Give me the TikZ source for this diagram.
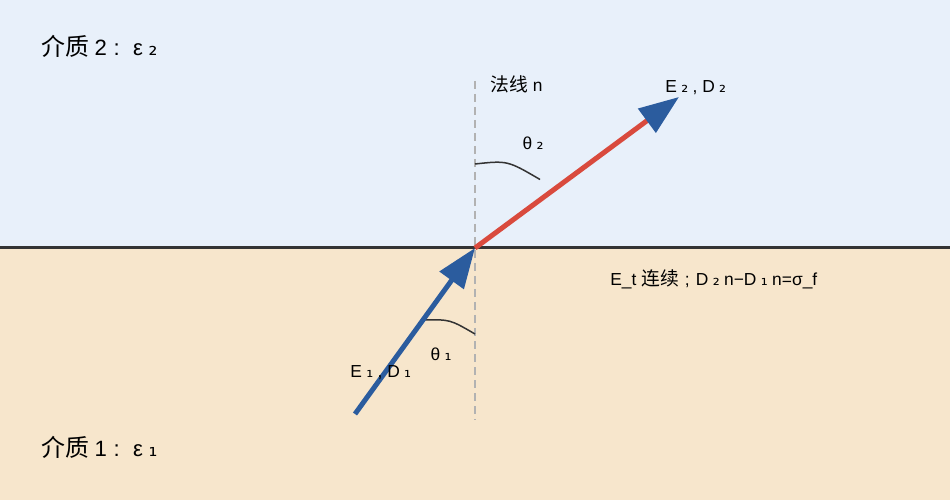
\documentclass[tikz,border=0pt]{standalone}
\usepackage{fontspec}
\setmainfont{Liberation Sans}
\newfontfamily\cjk[Scale=1.08]{Noto Sans CJK SC}
\newfontfamily\subfont{DejaVu Sans}
\usepackage{xcolor}
\usetikzlibrary{arrows.meta, positioning}

\definecolor{topbg}{HTML}{E8F0FA}
\definecolor{botbg}{HTML}{F7E6CC}
\definecolor{fieldblue}{HTML}{2B5C9E}
\definecolor{fieldred}{HTML}{D94A3D}
\definecolor{linedark}{HTML}{333333}

% subscript digit, set loosely
\newcommand{\sub}[1]{\hspace{0.25em}{\subfont #1}\hspace{0.25em}}

\begin{document}
\begin{tikzpicture}[
    lbl/.style={inner sep=0pt, anchor=west, font=\fontsize{9.9}{11}\selectfont},
    medium/.style={inner sep=0pt, anchor=west, font=\fontsize{12.6}{15}\selectfont},
    ang/.style={inner sep=0pt, font=\fontsize{9.9}{11}\selectfont},
    normalline/.style={draw=gray!60, line width=0.03cm, dash pattern=on 0.16cm off 0.1cm},
    arcline/.style={draw=linedark, line width=0.03cm},
    field/.style={line width=0.1cm, -{Triangle[length=0.8cm, width=0.58cm, color=fieldblue]}},
]

% === BACKGROUND ===
\fill[topbg] (0, 5.04) rectangle (19, 10);
\fill[botbg] (0, 0) rectangle (19, 5.04);
\useasboundingbox (0, 0) rectangle (19, 10);

% Interface
\coordinate (if_left) at (0, 5.04);
\coordinate (if_right) at (19, 5.04);
\draw[linedark, line width=0.06cm] (if_left) -- (if_right);

% Normal
\coordinate (hit) at (9.5, 5.04);
\coordinate (norm_top) at (9.5, 8.38);
\coordinate (norm_bot) at (9.5, 1.6);
\draw[normalline] (norm_top) -- (norm_bot);
\node[lbl] (norm_lbl) at (9.8, 8.32) {{\cjk 法线} n};

% Angle arcs
\coordinate (arc1_a) at (8.5, 3.6);
\coordinate (arc1_b) at (9.5, 3.32);
\draw[arcline] (arc1_a) .. controls (9.0, 3.61) .. (arc1_b);
\coordinate (arc2_a) at (9.5, 6.72);
\coordinate (arc2_b) at (10.8, 6.41);
\draw[arcline] (arc2_a) .. controls (10.15, 6.79) .. (arc2_b);
\node[ang] (theta1) at (8.82, 2.92) {θ\sub{₁}};
\node[ang] (theta2) at (10.66, 7.14) {θ\sub{₂}};

% Fields
\coordinate (inc_start) at (7.1, 1.72);
\coordinate (ref_tip) at (13.58, 8.06);
\draw[field, fieldblue] (inc_start) -- (hit);
\draw[field, fieldred] (hit) -- (ref_tip);
\node[lbl] (inc_lbl) at (7.0, 2.54) {E\sub{₁}, D\sub{₁}};
\node[lbl] (ref_lbl) at (13.3, 8.24) {E\sub{₂}, D\sub{₂}};

% Boundary conditions
\node[lbl] (bc_lbl) at (12.2, 4.42) {E\_t {\cjk 连续}\hspace{0.35em};\hspace{0.35em}D\sub{₂}n−D\sub{₁}n=σ\_f};

% Media
\node[medium] (med2) at (0.82, 9.08) {{\cjk 介质}\hspace{0.25em}2\hspace{0.3em}:\hspace{0.6em}ε\sub{₂}};
\node[medium] (med1) at (0.82, 1.06) {{\cjk 介质}\hspace{0.25em}1\hspace{0.3em}:\hspace{0.6em}ε\sub{₁}};

\end{tikzpicture}
\end{document}
